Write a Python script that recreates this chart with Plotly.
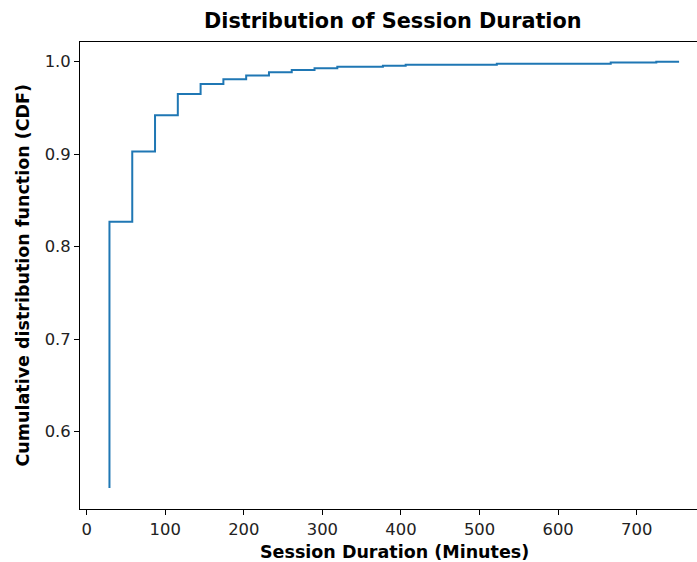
import plotly.graph_objects as go

# Session duration (minutes) at each step of the empirical CDF
durations = [29, 58, 87, 116, 145, 174, 203, 232, 261, 290, 319, 377, 406, 522, 667, 725, 754]
# CDF level at the start of each segment
cdf_values = [0.539, 0.827, 0.903, 0.942, 0.965, 0.976, 0.981, 0.985, 0.9885, 0.991,
              0.993, 0.9946, 0.9957, 0.9968, 0.9978, 0.9992, 1.0]

x_ticks = [0, 100, 200, 300, 400, 500, 600, 700]
y_ticks = [0.6, 0.7, 0.8, 0.9, 1.0]

title_text = "Distribution of Session Duration"
x_title = "Session Duration (Minutes)"
y_title = "Cumulative distribution function (CDF)"

FONT = "DejaVu Sans"
W, H = 697, 562
TICK = 16.4
LAB = 17.5
TIT = 20.8

fig = go.Figure()
fig.add_trace(go.Scatter(
    x=durations, y=cdf_values, mode="lines", line_shape="vh",
    line=dict(color="#1f77b4", width=2), hoverinfo="skip", showlegend=False,
))

fig.update_layout(
    width=W, height=H,
    margin=dict(l=80, r=0, t=42, b=53),
    paper_bgcolor="white", plot_bgcolor="white",
    font=dict(family=FONT, size=TICK, color="black"),
    xaxis=dict(
        range=[-8.5, 776.8], tickvals=x_ticks, ticks="outside", ticklen=5, tickwidth=1,
        tickcolor="black", showline=True, linecolor="black", linewidth=1, mirror=True,
        showgrid=False, zeroline=False, tickfont=dict(size=TICK, color="#222"),
    ),
    yaxis=dict(
        range=[0.5164, 1.0213], tickvals=y_ticks, tickformat=".1f", ticks="outside",
        ticklen=5, tickwidth=1, tickcolor="black", showline=True, linecolor="black",
        linewidth=1, mirror=False, showgrid=False, zeroline=False,
        tickfont=dict(size=TICK, color="#222"),
    ),
    annotations=[
        dict(text="<b>%s</b>" % title_text, xref="paper", yref="paper",
             x=(393 - 80) / (W - 80), y=1 + (42 - 21) / (509 - 42),
             xanchor="center", yanchor="middle", showarrow=False,
             font=dict(family=FONT, size=TIT, color="black")),
        dict(text="<b>%s</b>" % x_title, xref="paper", yref="paper",
             x=(394 - 80) / (W - 80), y=-(552 - 509) / (509 - 42),
             xanchor="center", yanchor="middle", showarrow=False,
             font=dict(family=FONT, size=LAB, color="black")),
        dict(text="<b>%s</b>" % y_title, xref="paper", yref="paper",
             x=-(80 - 22) / (W - 80), y=0.5, textangle=-90,
             xanchor="center", yanchor="middle", showarrow=False,
             font=dict(family=FONT, size=LAB, color="black")),
    ],
)

fig.write_html("out.html")
